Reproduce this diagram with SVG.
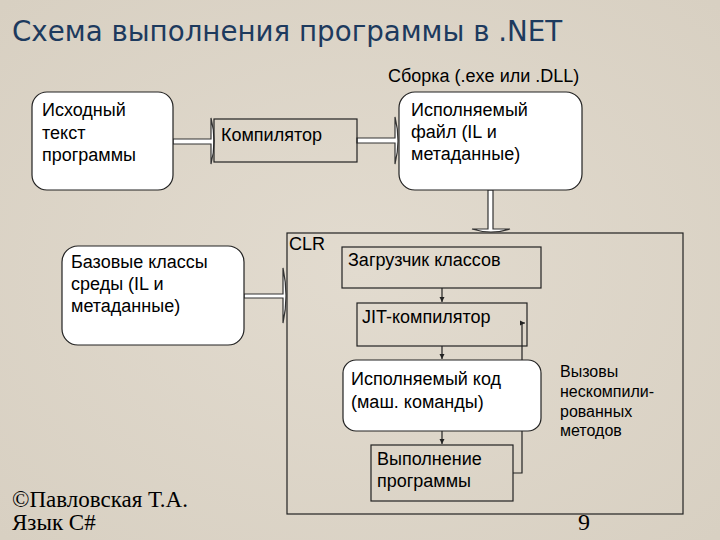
<svg xmlns="http://www.w3.org/2000/svg" width="720" height="540" viewBox="0 0 720 540">
<defs>
<style>
.t{font-family:"Liberation Sans",Arial,sans-serif;font-size:18px;fill:#000}
.s{font-family:"Liberation Sans",Arial,sans-serif;font-size:16px;fill:#000}
.ft{font-family:"Liberation Serif","Times New Roman",serif;font-size:23px;fill:#000}
.rb{fill:#fff;stroke:#222;stroke-width:1.2}
.pb{fill:none;stroke:#222;stroke-width:1.2}
.ba{fill:#fff;stroke:#333;stroke-width:1.2}
.ln{fill:none;stroke:#222;stroke-width:1.2}
</style>
<marker id="ah" markerWidth="6" markerHeight="6" refX="5" refY="3" orient="auto" markerUnits="userSpaceOnUse">
<path d="M0,0.5 L5,3 L0,5.5 Z" fill="#222"/>
</marker>
<radialGradient id="bg" cx="50%" cy="50%" r="70%">
<stop offset="0" stop-color="#e2dbcf"/>
<stop offset="1" stop-color="#d8d0c2"/>
</radialGradient>
</defs>
<rect x="0" y="0" width="720" height="540" fill="url(#bg)"/>
<text x="12" y="41" style="font-family:'DejaVu Sans',Verdana,sans-serif;font-size:27.7px;fill:#1d3a5e">Схема выполнения программы в .NET</text>
<text x="388" y="82" class="t">Сборка (.exe или .DLL)</text>

<g id="connectors">
<path class="ba" d="M173,139 H211 V118 Q217,141 211,164 V144 H173 Z"/>
<path class="ba" d="M357,138 H395 V117 Q401,140.5 395,164 V143 H357 Z"/>
<path class="ba" d="M244,294 H283 V268 Q289,296 283,323 V298 H244 Z"/>
<path class="ba" d="M488,190 V229 H472 Q491,235 510,229 H493 V190 Z"/>
<line class="ln" x1="442" y1="288" x2="442" y2="302" marker-end="url(#ah)"/>
<line class="ln" x1="442" y1="346" x2="442" y2="359" marker-end="url(#ah)"/>
<line class="ln" x1="442" y1="431" x2="442" y2="444" marker-end="url(#ah)"/>
<path class="ln" d="M513,473 H522 V323 H525" marker-end="url(#ah)"/>
</g>

<g id="clr">
<rect class="pb" x="287" y="233" width="396" height="281"/>
<text x="289" y="250" class="t">CLR</text>
</g>

<g id="source">
<rect class="rb" x="32" y="92" width="141" height="98" rx="15"/>
<text class="t"><tspan x="42" y="116">Исходный</tspan><tspan x="42" y="139">текст</tspan><tspan x="42" y="161">программы</tspan></text>
</g>

<g id="compiler">
<rect class="pb" x="214" y="119" width="143" height="43"/>
<text x="221" y="141" class="t">Компилятор</text>
</g>

<g id="exe">
<rect class="rb" x="399" y="92" width="183" height="98" rx="16"/>
<text class="t"><tspan x="411" y="116">Исполняемый</tspan><tspan x="411" y="138">файл (IL и</tspan><tspan x="411" y="160">метаданные)</tspan></text>
</g>

<g id="baseclasses">
<rect class="rb" x="62" y="246" width="182" height="99" rx="16"/>
<text class="t"><tspan x="71" y="268">Базовые классы</tspan><tspan x="71" y="290">среды (IL и</tspan><tspan x="71" y="312">метаданные)</tspan></text>
</g>

<g id="loader">
<rect class="pb" x="342" y="247" width="199" height="41"/>
<text x="348" y="266" class="t">Загрузчик классов</text>
</g>

<g id="jit">
<rect class="pb" x="357" y="303" width="170" height="43"/>
<text x="362" y="323" class="t">JIT-компилятор</text>
</g>

<g id="execcode">
<rect class="rb" x="343" y="360" width="198" height="71" rx="13"/>
<text class="t"><tspan x="351" y="385">Исполняемый код</tspan><tspan x="351" y="408">(маш. команды)</tspan></text>
</g>

<g id="execution">
<rect class="pb" x="371" y="445" width="142" height="56"/>
<text class="t"><tspan x="377" y="465">Выполнение</tspan><tspan x="377" y="487">программы</tspan></text>
</g>

<g id="calls">
<text class="s"><tspan x="560" y="377">Вызовы</tspan><tspan x="560" y="397">нескомпили-</tspan><tspan x="560" y="417">рованных</tspan><tspan x="560" y="436">методов</tspan></text>
</g>

<text class="ft"><tspan x="12" y="507">©Павловская Т.А.</tspan><tspan x="12" y="530">Язык C#</tspan></text>
<text x="578" y="530" class="ft" style="font-size:24px">9</text>
</svg>
